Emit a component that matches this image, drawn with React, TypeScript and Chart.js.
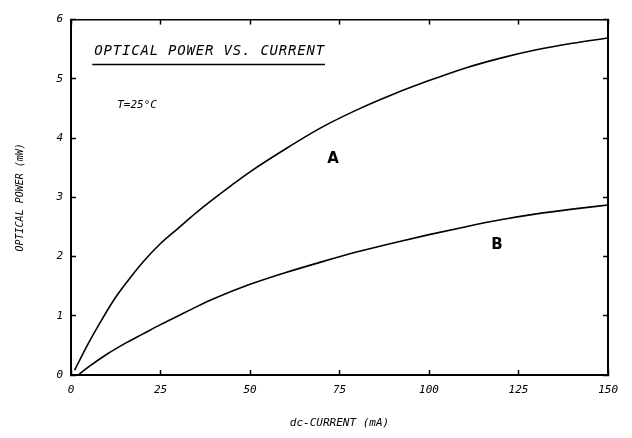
import React, { useEffect, useRef } from "react";
import { Chart, registerables } from "chart.js";

Chart.register(...registerables);

const xTicks = [0, 25, 50, 75, 100, 125, 150];
const yTicks = [0, 1, 2, 3, 4, 5, 6];

const currentA = [1, 3, 5, 8, 12, 16, 20, 25, 30, 35, 40, 45, 50, 60, 70, 80, 90, 100, 110, 120, 130, 140, 150];
const powerA = [0.08, 0.32, 0.55, 0.87, 1.27, 1.6, 1.9, 2.22, 2.48, 2.74, 2.98, 3.21, 3.43, 3.82, 4.18, 4.48, 4.74, 4.97, 5.18, 5.35, 5.49, 5.6, 5.69];

const currentB = [2, 5, 10, 15, 20, 25, 30, 35, 40, 50, 60, 70, 80, 90, 100, 110, 120, 130, 140, 150];
const powerB = [0, 0.14, 0.35, 0.53, 0.69, 0.85, 1.0, 1.15, 1.29, 1.53, 1.73, 1.91, 2.08, 2.23, 2.37, 2.5, 2.62, 2.72, 2.8, 2.87];

const titleText = "OPTICAL POWER VS. CURRENT";
const tempText = "T=25°C";
const xTitle = "dc-CURRENT (mA)";
const yTitle = "OPTICAL POWER (mW)";

const FONT = "'DejaVu Sans Mono', monospace";

const annotationPlugin = {
  id: "annotations",
  afterDraw(chart: any) {
    const { ctx, scales } = chart;
    const x = scales.x;
    const y = scales.y;
    ctx.save();
    ctx.fillStyle = "#000";
    ctx.strokeStyle = "#000";
    ctx.font = `italic 14px ${FONT}`;
    (ctx as any).letterSpacing = "0.8px";
    ctx.textAlign = "left";
    ctx.textBaseline = "middle";
    const tx = x.getPixelForValue(6.5);
    const ty = y.getPixelForValue(5.46);
    ctx.fillText(titleText, tx, ty);
    const w = ctx.measureText(titleText).width;
    ctx.lineWidth = 1.5;
    ctx.beginPath();
    const uy = y.getPixelForValue(5.24);
    ctx.moveTo(tx - 2, uy);
    ctx.lineTo(tx + w, uy);
    ctx.stroke();
    (ctx as any).letterSpacing = "0px";
    ctx.font = `italic 11px ${FONT}`;
    ctx.fillText(tempText, x.getPixelForValue(12.9), y.getPixelForValue(4.56));
    ctx.font = `bold 15px 'DejaVu Sans', sans-serif`;
    ctx.textAlign = "center";
    ctx.fillText("A", x.getPixelForValue(73.2), y.getPixelForValue(3.65));
    ctx.fillText("B", x.getPixelForValue(119), y.getPixelForValue(2.19));
    ctx.restore();
  },
};

export default function App() {
  const ref = useRef<HTMLCanvasElement | null>(null);
  useEffect(() => {
    if (!ref.current) return;
    const tickFont = { family: FONT, size: 11, style: "italic" as const };
    const chart = new Chart(ref.current, {
      type: "line",
      data: {
        datasets: [
          {
            label: "A",
            data: currentA.map((c, i) => ({ x: c, y: powerA[i] })),
            borderColor: "#000",
            borderWidth: 1.6,
            pointRadius: 0,
            cubicInterpolationMode: "monotone",
            fill: false,
          },
          {
            label: "B",
            data: currentB.map((c, i) => ({ x: c, y: powerB[i] })),
            borderColor: "#000",
            borderWidth: 1.6,
            pointRadius: 0,
            cubicInterpolationMode: "monotone",
            fill: false,
          },
        ],
      },
      options: {
        responsive: false,
        animation: false,
        layout: { padding: { left: 0, top: 13, right: 14, bottom: 0 } },
        plugins: { legend: { display: false }, tooltip: { enabled: false } },
        scales: {
          x: {
            type: "linear",
            position: "bottom",
            min: 0,
            max: 150,
            afterBuildTicks: (s: any) => {
              s.ticks = xTicks.map((v) => ({ value: v }));
            },
            afterFit: (s: any) => {
              s.height = 63;
            },
            ticks: { color: "#000", font: tickFont, padding: 14 },
            grid: { drawOnChartArea: false, drawTicks: true, tickLength: -5, color: "#000", tickWidth: 1.5 },
            border: { display: true, color: "#000", width: 2 },
            title: { display: true, text: xTitle, color: "#000", font: { family: FONT, size: 11, style: "italic" }, padding: { top: 0, bottom: 8 } },
          },
          y: {
            type: "linear",
            position: "left",
            min: 0,
            max: 6,
            afterBuildTicks: (s: any) => {
              s.ticks = yTicks.map((v) => ({ value: v }));
            },
            afterFit: (s: any) => {
              s.width = 71;
            },
            ticks: { color: "#000", font: tickFont, padding: 13 },
            grid: { drawOnChartArea: false, drawTicks: true, tickLength: -5, color: "#000", tickWidth: 1.5 },
            border: { display: true, color: "#000", width: 2 },
            title: { display: true, text: yTitle, color: "#000", font: { family: FONT, size: 10, style: "italic" }, padding: { top: 14, bottom: 0 } },
          },
          x2: {
            type: "linear",
            position: "top",
            min: 0,
            max: 150,
            afterBuildTicks: (s: any) => {
              s.ticks = xTicks.map((v) => ({ value: v }));
            },
            afterFit: (s: any) => {
              s.height = 0;
            },
            ticks: { display: false },
            grid: { drawOnChartArea: false, drawTicks: true, tickLength: -5, color: "#000", tickWidth: 1.5 },
            border: { display: true, color: "#000", width: 1.5 },
          },
          y2: {
            type: "linear",
            position: "right",
            min: 0,
            max: 6,
            afterBuildTicks: (s: any) => {
              s.ticks = yTicks.map((v) => ({ value: v }));
            },
            afterFit: (s: any) => {
              s.width = 0;
            },
            ticks: { display: false },
            grid: { drawOnChartArea: false, drawTicks: true, tickLength: -5, color: "#000", tickWidth: 1.5 },
            border: { display: true, color: "#000", width: 2 },
          },
        },
      } as any,
      plugins: [annotationPlugin],
    });
    return () => chart.destroy();
  }, []);
  return (
    <div style={{ position: "absolute", left: 0, top: 0, width: 632, height: 438, background: "#fff" }}>
      <canvas ref={ref} width={632} height={438} />
    </div>
  );
}
